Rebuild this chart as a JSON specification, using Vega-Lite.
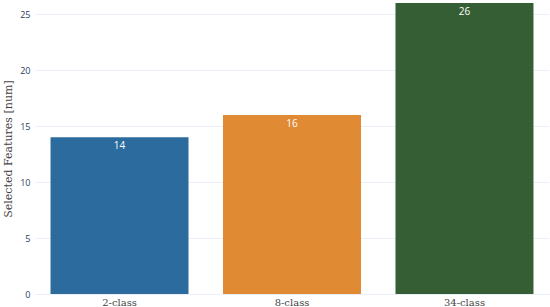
{
  "$schema": "https://vega.github.io/schema/vega-lite/v6.json",
  "width": 550,
  "height": 307,
  "autosize": {"type": "fit", "contains": "padding"},
  "padding": {"left": 2, "right": 1, "top": 3, "bottom": 0},
  "background": "white",
  "config": {"view": {"stroke": null}},
  "data": {"values": [
    {"cls": "2-class", "v": 14, "c": "#2c6b9e"},
    {"cls": "8-class", "v": 16, "c": "#e08a33"},
    {"cls": "34-class", "v": 26, "c": "#365e35"}
  ]},
  "encoding": {
    "x": {"field": "cls", "type": "nominal", "sort": null,
      "scale": {"paddingInner": 0.2, "paddingOuter": 0.09},
      "axis": {"title": null, "labelAngle": 0, "labelFont": "DejaVu Serif", "labelFontSize": 10, "labelColor": "#444", "ticks": false, "domain": true, "domainColor": "#ebf0f8", "labelPadding": 3}},
    "y": {"field": "v", "type": "quantitative",
      "scale": {"domain": [0, 26], "nice": false},
      "axis": {"title": "Selected Features [num]", "titleFont": "DejaVu Serif", "titleFontWeight": "normal", "titleFontSize": 11, "titleColor": "#444", "values": [0, 5, 10, 15, 20, 25], "labelFont": "Open Sans", "labelFontSize": 9, "labelColor": "#2a3f5f", "gridColor": "#ebf0f8", "domain": false, "ticks": false, "labelPadding": 5, "titlePadding": 6}}
  },
  "layer": [
    {"mark": {"type": "bar"}, "encoding": {"color": {"field": "c", "type": "nominal", "scale": null}}},
    {"mark": {"type": "text", "baseline": "top", "dy": 4, "color": "white", "font": "Open Sans", "fontSize": 10}, "encoding": {"text": {"field": "v", "type": "quantitative"}}}
  ]
}
